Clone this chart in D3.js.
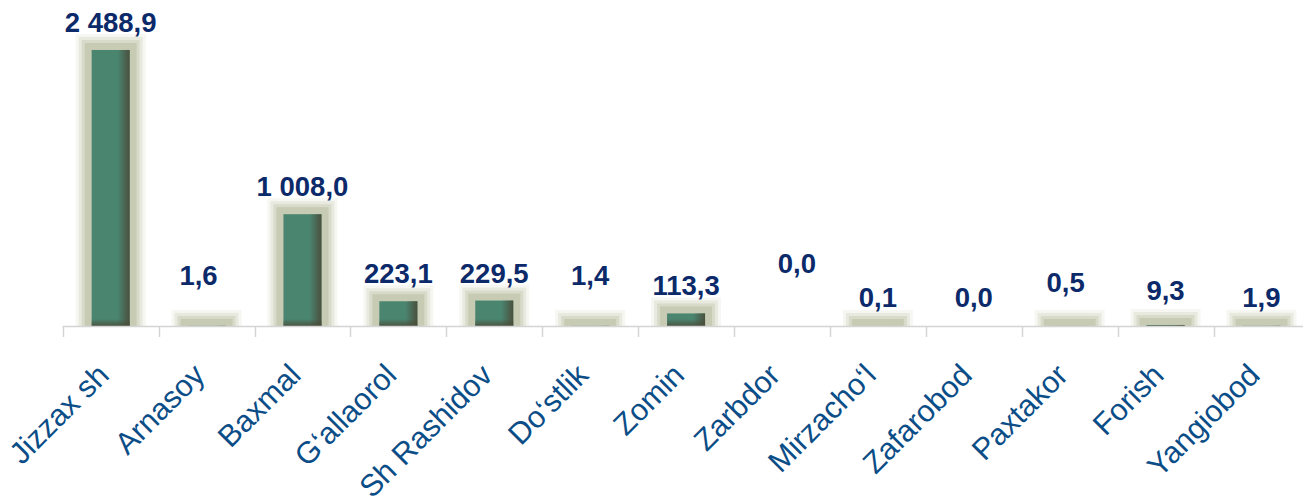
<!DOCTYPE html>
<html>
<head>
<meta charset="utf-8">
<script src="https://cdn.jsdelivr.net/npm/d3@7"></script>
<style>
  html, body { margin: 0; padding: 0; background: #fff; }
  svg { display: block; }
</style>
</head>
<body>
<div id="chart"></div>
<script>
// Districts and their values
const districts = ["Jizzax sh", "Arnasoy", "Baxmal", "G‘allaorol", "Sh Rashidov", "Do‘stlik",
  "Zomin", "Zarbdor", "Mirzacho‘l", "Zafarobod", "Paxtakor", "Forish", "Yangiobod"];
const values = [2488.9, 1.6, 1008.0, 223.1, 229.5, 1.4, 113.3, 0.0, 0.1, 0.0, 0.5, 9.3, 1.9];

// Hand-placed value labels: horizontal shift and height above the bar top (px)
const labelShiftX = [0, -8, 0, 0, 0, 0, 0, 15, 0, 0, -4, 0, 0];
const labelLift = [18, 41, 18, 18, 18, 41, 18, 53, 19, 19, 34, 25, 19];

const width = 1303, height = 496;
const baseY = 326;

const svg = d3.select("#chart").append("svg")
  .attr("width", width).attr("height", height);

const x = d3.scaleBand()
  .domain(districts)
  .range([62.7, 62.7 + 95.9 * districts.length])
  .paddingInner(0).paddingOuter(0);

const y = d3.scaleLinear().domain([0, 2700]).range([baseY, baseY - 2700 * 0.1109]);

const fmt = d3.formatLocale({ decimal: ",", thousands: " ", grouping: [3], currency: ["", ""] }).format(",.1f");

const defs = svg.append("defs");
defs.append("clipPath").attr("id", "aboveBase")
  .append("rect").attr("x", 0).attr("y", 0).attr("width", width).attr("height", baseY + 1);

const gradR = defs.append("linearGradient").attr("id", "shadeRight")
  .attr("x1", "0").attr("x2", "1").attr("y1", "0").attr("y2", "0");
gradR.append("stop").attr("offset", "0").attr("stop-color", "#4a4a38").attr("stop-opacity", 0);
gradR.append("stop").attr("offset", "1").attr("stop-color", "#4a4a38").attr("stop-opacity", 0.9);

const gradB = defs.append("linearGradient").attr("id", "shadeBottom")
  .attr("x1", "0").attr("x2", "0").attr("y1", "0").attr("y2", "1");
gradB.append("stop").attr("offset", "0").attr("stop-color", "#4a4a38").attr("stop-opacity", 0);
gradB.append("stop").attr("offset", "1").attr("stop-color", "#4a4a38").attr("stop-opacity", 0.85);

const barW = 38;
const data = districts.map((d, i) => ({ name: d, value: values[i], i }));
const cx = d => x(d.name) + x.bandwidth() / 2;

// Olive halo behind each non-zero bar, built from nested rectangles
const glowLayers = [
  { pad: 16, color: "#f6f7f2" },
  { pad: 13, color: "#e9eadf" },
  { pad: 10, color: "#d9dbca" },
  { pad: 7, color: "#c8cbb3" }
];
const glow = svg.append("g").attr("clip-path", "url(#aboveBase)");
glowLayers.forEach(L => {
  glow.selectAll(null).data(data.filter(d => d.value > 0)).join("rect")
    .attr("x", d => cx(d) - barW / 2 - L.pad)
    .attr("y", d => y(d.value) - L.pad)
    .attr("width", barW + 2 * L.pad)
    .attr("height", d => baseY + 4 - (y(d.value) - L.pad))
    .attr("fill", L.color);
});

// Green bars with shaded right and bottom edges
const bars = svg.append("g");
bars.selectAll("rect.bar").data(data.filter(d => d.value > 0)).join("rect")
  .attr("class", "bar")
  .attr("x", d => cx(d) - barW / 2)
  .attr("y", d => y(d.value))
  .attr("width", barW)
  .attr("height", d => baseY - y(d.value))
  .attr("fill", "#4a8570");
bars.selectAll("rect.edgeR").data(data.filter(d => d.value > 0)).join("rect")
  .attr("class", "edgeR")
  .attr("x", d => cx(d) + barW / 2 - 12)
  .attr("y", d => y(d.value))
  .attr("width", 12)
  .attr("height", d => baseY - y(d.value))
  .attr("fill", "url(#shadeRight)");
bars.selectAll("rect.edgeB").data(data.filter(d => d.value > 0)).join("rect")
  .attr("class", "edgeB")
  .attr("x", d => cx(d) - barW / 2)
  .attr("y", d => Math.max(y(d.value), baseY - 7))
  .attr("width", barW)
  .attr("height", d => Math.min(7, baseY - y(d.value)))
  .attr("fill", "url(#shadeBottom)");

// Category axis: base line, ticks at band edges
const axisG = svg.append("g");
axisG.append("line")
  .attr("x1", x.range()[0]).attr("x2", x.range()[1])
  .attr("y1", baseY + 0.5).attr("y2", baseY + 0.5)
  .attr("stroke", "#d4d4d4").attr("stroke-width", 1.5);
const edges = districts.map(d => x(d)).concat([x.range()[1]]);
axisG.selectAll("line.tick").data(edges).join("line")
  .attr("class", "tick")
  .attr("x1", d => Math.round(d) + 0.5).attr("x2", d => Math.round(d) + 0.5)
  .attr("y1", baseY).attr("y2", baseY + 11)
  .attr("stroke", "#d4d4d4").attr("stroke-width", 1.5);

axisG.selectAll("text").data(data).join("text")
  .attr("transform", d => `translate(${cx(d)},377) rotate(-45)`)
  .attr("text-anchor", "end")
  .attr("font-family", "Liberation Sans, Arial, sans-serif")
  .attr("font-size", 30.5)
  .attr("fill", "#0b4d87")
  .text(d => d.name);

// Value labels
svg.append("g").selectAll("text").data(data).join("text")
  .attr("x", d => cx(d) + labelShiftX[d.i])
  .attr("y", d => y(d.value) - labelLift[d.i])
  .attr("text-anchor", "middle")
  .attr("font-family", "Liberation Sans, Arial, sans-serif")
  .attr("font-weight", "bold")
  .attr("font-size", 27.5)
  .attr("fill", "#0c2a6a")
  .text(d => fmt(d.value));
</script>
</body>
</html>
